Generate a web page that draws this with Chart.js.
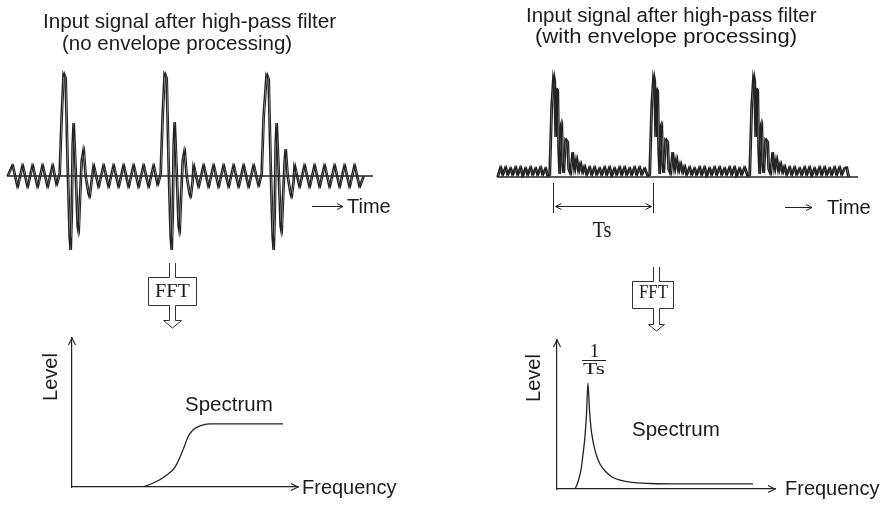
<!DOCTYPE html>
<html><head><meta charset="utf-8">
<script src="https://cdn.jsdelivr.net/npm/chart.js@4/dist/chart.umd.min.js"></script>
<style>
html,body{margin:0;padding:0;background:#fff;width:888px;height:514px;overflow:hidden}
canvas{position:absolute}
svg{position:absolute;left:0;top:0;pointer-events:none}
</style></head><body>
<canvas id="rawWave"></canvas>
<canvas id="envWave"></canvas>
<canvas id="rawSpec"></canvas>
<canvas id="envSpec"></canvas>
<svg width="888" height="514" viewBox="0 0 888 514" font-family="'Liberation Sans', Arial, Helvetica, sans-serif" fill="#1c1c1c">
  <text x="43" y="28" font-size="20.7">Input signal after high-pass filter</text>
  <text x="62" y="50" font-size="20.5">(no envelope processing)</text>
  <text x="526" y="22" font-size="20.5">Input signal after high-pass filter</text>
  <text x="535" y="43" font-size="20.5" textLength="262" lengthAdjust="spacingAndGlyphs">(with envelope processing)</text>

  <g stroke="#222" stroke-width="1" fill="none">
    <path d="M312 206.5 H343 M337 203.5 L343 206.5 L337 209.5"/>
    <path d="M785 207.5 H812 M806 204.5 L812 207.5 L806 210.5"/>
  </g>
  <text x="347" y="213" font-size="20">Time</text>
  <text x="827" y="214" font-size="20">Time</text>

  <path d="M169.5,263 V277.5 H148.5 V305.5 H169.5 V320.5 H163.5 L172.5,328 L181.5,320.5 H175.5 V305.5 H196.5 V277.5 H175.5 V263" fill="#fff" stroke="#333" stroke-width="1"/>
  <text x="172.5" y="297" text-anchor="middle" font-family="'Liberation Serif', 'DejaVu Serif', serif" font-size="19" textLength="35" lengthAdjust="spacingAndGlyphs">FFT</text>
  <path d="M653.5,267 V281.5 H632.5 V308.5 H653.5 V324.5 H648.5 L656.5,331 L664.5,324.5 H659.5 V308.5 H673.5 V281.5 H659.5 V267" fill="#fff" stroke="#333" stroke-width="1"/>
  <text x="653.5" y="298" text-anchor="middle" font-family="'Liberation Serif', 'DejaVu Serif', serif" font-size="18" textLength="29" lengthAdjust="spacingAndGlyphs">FFT</text>

  <text transform="translate(57,377) rotate(-90)" text-anchor="middle" font-size="20">Level</text>
  <text transform="translate(540,378) rotate(-90)" text-anchor="middle" font-size="20">Level</text>
  <text x="185" y="411" font-size="20.5">Spectrum</text>
  <text x="632" y="436" font-size="20.5">Spectrum</text>
  <text x="302" y="494" font-size="20">Frequency</text>
  <text x="785" y="495" font-size="20">Frequency</text>

  <text x="602" y="237" text-anchor="middle" font-family="'Liberation Serif', 'DejaVu Serif', serif" font-size="23" textLength="19" lengthAdjust="spacingAndGlyphs">Ts</text>
  <text x="594.5" y="357" text-anchor="middle" font-family="'Liberation Serif', 'DejaVu Serif', serif" font-size="19">1</text>
  <line x1="582" y1="360.5" x2="606" y2="360.5" stroke="#222" stroke-width="1"/>
  <text x="594" y="374" text-anchor="middle" font-family="'Liberation Serif', 'DejaVu Serif', serif" font-size="17" textLength="22" lengthAdjust="spacingAndGlyphs">Ts</text>
</svg>
<script>
// ---------- DATA ----------
// Top-left: signal after high-pass filter, no envelope processing (time in samples, amplitude arbitrary)
const rawTime = [7, 12, 17, 22, 27, 32, 37, 42, 47, 52, 56,
  59, 61, 63, 65, 67, 69, 70, 71, 72, 73, 75, 77, 78, 79, 81, 83, 85, 88, 89, 91,
  93, 98, 103, 108, 113, 118, 123, 128, 133, 138, 143, 148, 153, 157,
  160, 162, 164, 166, 168, 170, 171, 172, 173, 174, 176, 178, 179, 180, 182, 184, 186, 189, 190, 192,
  193, 198, 203, 208, 213, 218, 223, 228, 233, 238, 243, 248, 253, 258,
  261, 263, 266, 268, 270, 272, 273, 274, 275, 276, 278, 280, 281, 282, 284, 285, 287, 290, 291, 293,
  294, 299, 304, 309, 314, 319, 324, 329, 334, 339, 344, 349, 354, 359, 363];
const rawAmp = [0, 11, -11, 11, -11, 11, -11, 11, -11, 11, -9,
  2, 60, 103, 98, 10, -60, -74, -40, 30, 53, 5, -50, -56, -30, 15, 27, 0, -18, -21, -5,
  11, -11, 11, -11, 11, -11, 11, -11, 11, -11, 11, -11, 11, -9,
  2, 60, 103, 98, 10, -60, -74, -40, 30, 54, 5, -50, -56, -30, 15, 26, 0, -18, -21, -5,
  11, -11, 11, -11, 11, -11, 11, -11, 11, -11, 11, -11, 11, -10,
  2, 60, 102, 97, 10, -60, -74, -40, 30, 53, 5, -50, -56, -30, 15, 27, 0, -18, -21, -5,
  11, -11, 11, -11, 11, -11, 11, -11, 11, -11, 11, -11, 11, -11, 0];
const rawAxisTime = [7, 373];

// Top-right: signal after high-pass filter, with envelope processing
const envTime = [7, 10, 12, 15, 17, 20, 22, 25, 27, 30, 32, 35, 37, 40, 42, 45, 47, 50, 52, 55, 57,
  59, 61, 63, 64, 65, 66, 67, 68, 69, 70, 71, 72, 73, 75, 77, 78, 80, 82, 84, 86, 88, 90, 92, 94, 96,
  99, 101, 104, 106, 109, 111, 114, 116, 119, 121, 124, 126, 129, 131, 134, 136, 139, 141, 144, 146, 149, 151, 154, 157,
  159, 161, 163, 164, 165, 166, 167, 168, 169, 170, 171, 172, 173, 175, 177, 178, 180, 182, 184, 186, 188, 190, 192, 194, 196,
  199, 201, 204, 206, 209, 211, 214, 216, 219, 221, 224, 226, 229, 231, 234, 236, 239, 241, 244, 246, 249, 251, 254, 257,
  259, 261, 263, 264, 265, 266, 267, 268, 269, 270, 271, 272, 273, 275, 277, 278, 280, 282, 284, 286, 288, 290, 292, 294, 296,
  299, 301, 304, 306, 309, 311, 314, 316, 319, 321, 324, 326, 329, 331, 334, 336, 339, 341, 344, 346, 349, 351, 354, 356, 358];
const envAmp = [0, 10, 2, 10, 2, 9, 2, 10, 2, 10, 1, 9, 2, 10, 2, 9, 2, 10, 2, 9, 1,
  2, 70, 102, 96, 40, 88, 87, 28, 3, 50, 54, 12, 4, 38, 35, 8, 3, 25, 6, 19, 5, 14, 4, 11, 2,
  10, 2, 10, 2, 9, 2, 10, 2, 10, 1, 9, 2, 10, 2, 10, 2, 9, 2, 10, 2, 10, 2, 9, 1,
  2, 70, 102, 96, 40, 88, 86, 28, 3, 50, 53, 12, 4, 38, 35, 8, 3, 25, 6, 19, 5, 14, 4, 11, 2,
  10, 2, 9, 2, 10, 2, 10, 1, 9, 2, 10, 2, 10, 2, 9, 2, 10, 2, 10, 1, 9, 2, 10, 1,
  2, 70, 102, 96, 40, 88, 87, 28, 3, 50, 54, 12, 4, 38, 35, 8, 3, 25, 6, 19, 5, 14, 4, 11, 2,
  10, 2, 10, 2, 9, 2, 10, 2, 10, 1, 9, 2, 10, 2, 10, 2, 9, 2, 10, 2, 10, 2, 9, 10, 0];
const envAxisTime = [7, 368];
const tsMarkTimes = [63, 163];   // one period Ts between two bursts

// Bottom-left: spectrum without envelope processing (frequency %, level %)
const rawSpecFreq  = [0, 30, 36, 42, 45.6, 47.8, 49.6, 51.3, 53.5, 56.6, 61, 93.4];
const rawSpecLevel = [0, 0, 2.7, 8.1, 13.4, 20.1, 26.8, 33.6, 38.3, 41, 42.3, 42.3];

// Bottom-right: spectrum with envelope processing (peak at 1/Ts)
const envSpecFreq  = [8.3, 9.6, 11.0, 11.9, 12.8, 13.5, 14.2, 14.9, 15.6, 16.5, 17.9, 19.7, 22.5, 25.2, 28.9, 34.4, 42.7, 56.4, 89.9];
const envSpecLevel = [0, 4.7, 12.8, 22.8, 34.9, 49.7, 71.1, 53, 40.9, 32.2, 23.5, 16.8, 11.4, 8.1, 6.0, 4.4, 3.7, 3.4, 3.4];

// ---------- DRAWING ----------
const ink = '#222';
function pts(xs, ys) { return xs.map((x, i) => ({x: x, y: ys[i]})); }
function place(id, left, top, w, h) {
  const c = document.getElementById(id);
  c.width = w; c.height = h;
  c.style.left = left + 'px'; c.style.top = top + 'px';
  c.style.width = w + 'px'; c.style.height = h + 'px';
  return c;
}
const common = {
  responsive: false, animation: false, devicePixelRatio: 1, events: [],
  plugins: {legend: {display: false}, tooltip: {enabled: false}, title: {display: false}}
};

function waveChart(id, rect, yr, time, amp, axisTime, lw, extra) {
  return new Chart(place(id, rect[0], rect[1], rect[2], rect[3]), {
    type: 'line',
    data: {datasets: [
      {data: pts(axisTime, axisTime.map(() => 0)), borderColor: ink, borderWidth: 1.3, pointRadius: 0},
      {data: pts(time, amp), borderColor: ink, borderWidth: lw[0], pointRadius: 0, tension: 0},
      {data: pts(time, amp), xAxisID: 'x2', borderColor: ink, borderWidth: lw[1], pointRadius: 0, tension: 0}
    ]},
    options: Object.assign({}, common, {
      layout: {padding: 0},
      scales: {
        x: {type: 'linear', min: 0, max: rect[2], display: false},
        x2: {type: 'linear', min: -1.5, max: rect[2] - 1.5, display: false},
        y: {type: 'linear', min: yr[0], max: yr[1], display: false}
      }
    }),
    plugins: extra || []
  });
}

const tsMarks = {
  id: 'tsMarks',
  afterDatasetsDraw(chart) {
    const ctx = chart.ctx;
    const xs = tsMarkTimes.map(t => Math.round(chart.scales.x.getPixelForValue(t)) + 0.5);
    const base = chart.scales.y.getPixelForValue(0);
    ctx.save();
    ctx.strokeStyle = ink; ctx.lineWidth = 1;
    ctx.beginPath();
    xs.forEach(x => { ctx.moveTo(x, base + 6); ctx.lineTo(x, base + 36); });
    const ay = Math.round(base + 29) + 0.5;
    ctx.moveTo(xs[0] + 2, ay); ctx.lineTo(xs[1] - 2, ay);
    ctx.moveTo(xs[0] + 8, ay - 3); ctx.lineTo(xs[0] + 2, ay); ctx.lineTo(xs[0] + 8, ay + 3);
    ctx.moveTo(xs[1] - 8, ay - 3); ctx.lineTo(xs[1] - 2, ay); ctx.lineTo(xs[1] - 8, ay + 3);
    ctx.stroke();
    ctx.restore();
  }
};

const axisArrows = {
  id: 'axisArrows',
  afterDraw(chart) {
    const a = chart.chartArea, ctx = chart.ctx;
    ctx.save();
    ctx.strokeStyle = ink; ctx.lineWidth = 1.1;
    ctx.beginPath();
    ctx.moveTo(a.right - 7, a.bottom - 3.5); ctx.lineTo(a.right, a.bottom); ctx.lineTo(a.right - 7, a.bottom + 3.5);
    ctx.moveTo(a.left - 3.5, a.top + 7); ctx.lineTo(a.left, a.top); ctx.lineTo(a.left + 3.5, a.top + 7);
    ctx.stroke();
    ctx.restore();
  }
};

function specChart(id, rect, freq, level) {
  const axis = {
    type: 'linear', min: 0, max: 100,
    ticks: {display: false}, grid: {display: false, drawTicks: false},
    border: {display: true, color: ink, width: 1.2}
  };
  return new Chart(place(id, rect[0], rect[1], rect[2], rect[3]), {
    type: 'line',
    data: {datasets: [
      {data: pts(freq, level), borderColor: ink, borderWidth: 1.3, pointRadius: 0, cubicInterpolationMode: 'monotone'}
    ]},
    options: Object.assign({}, common, {
      layout: {padding: 10},
      scales: {
        x: Object.assign({}, axis, {afterFit(s) { s.height = 0; }}),
        y: Object.assign({}, axis, {afterFit(s) { s.width = 0; }})
      }
    }),
    plugins: [axisArrows]
  });
}

waveChart('rawWave', [0, 60, 380, 200], [-84, 116], rawTime, rawAmp, rawAxisTime, [1.4, 1.1]);
waveChart('envWave', [490, 60, 380, 200], [-83, 117], envTime, envAmp, envAxisTime, [1.5, 1.3], [tsMarks]);
specChart('rawSpec', [62, 328, 246, 169], rawSpecFreq, rawSpecLevel);
specChart('envSpec', [547, 330, 238, 169], envSpecFreq, envSpecLevel);
</script>
</body></html>
